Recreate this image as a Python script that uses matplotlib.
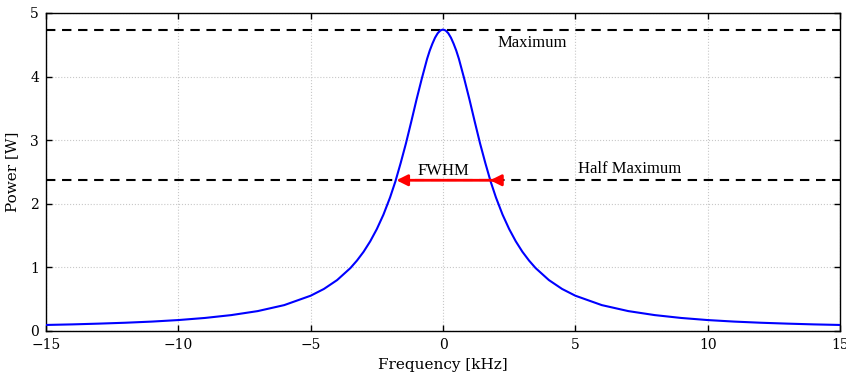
import matplotlib
matplotlib.use("Agg")
import matplotlib.pyplot as plt

# Right half of the (symmetric) spectrum
freq_half = [0.0, 0.1, 0.2, 0.3, 0.4, 0.5, 0.6, 0.8, 1.0, 1.2, 1.4, 1.6, 1.8,
             2.0, 2.25, 2.5, 2.75, 3.0, 3.25, 3.5, 4.0, 4.5, 5.0, 6.0, 7.0,
             8.0, 9.0, 10.0, 11.0, 12.0, 13.0, 14.0, 15.0]
power_half = [4.740, 4.725, 4.682, 4.612, 4.518, 4.410, 4.280, 3.970, 3.640,
              3.290, 2.950, 2.640, 2.350, 2.100, 1.830, 1.603, 1.410, 1.246,
              1.108, 0.989, 0.801, 0.661, 0.555, 0.407, 0.313, 0.250, 0.205,
              0.172, 0.148, 0.130, 0.116, 0.104, 0.095]

max_power = 4.74
half_power = 2.37
fwhm_left, fwhm_right = -1.76, 1.78

x_ticks = [-15, -10, -5, 0, 5, 10, 15]
y_ticks = [0, 1, 2, 3, 4, 5]

freq = [-f for f in freq_half[:0:-1]] + freq_half
power = power_half[:0:-1] + power_half

serif = ["DejaVu Serif"]
times = ["Liberation Serif", "DejaVu Serif"]

fig = plt.figure(figsize=(8.46, 3.73), dpi=100)
ax = fig.add_axes([46/846, 1-331/373, (840-46)/846, (331-13)/373])

ax.plot(freq, power, color="#0000ff", lw=1.5, zorder=3)
ax.axhline(max_power, color="black", lw=1.5, ls=(0, (4.5, 3.2)), zorder=2)
ax.axhline(half_power, color="black", lw=1.5, ls=(0, (4.5, 3.2)), zorder=2)

ap = dict(arrowstyle="-|>,head_length=0.6,head_width=0.3", color="red", lw=2,
          shrinkA=0, shrinkB=0, mutation_scale=11)
ax.annotate("", xy=(fwhm_left, half_power), xytext=(2.05, half_power), arrowprops=ap, zorder=4)
ax.annotate("", xy=(fwhm_right, half_power), xytext=(2.05, half_power), arrowprops=ap, zorder=4)

ax.text(0.0, 2.52, "FWHM", family=times, fontsize=12, ha="center", va="center")
ax.text(2.05, 4.53, "Maximum", family=times, fontsize=12, ha="left", va="center")
ax.text(5.1, 2.54, "Half Maximum", family=times, fontsize=12, ha="left", va="center")

ax.set_xlim(-15, 15)
ax.set_ylim(0, 5)
ax.set_xticks(x_ticks)
ax.set_yticks(y_ticks)
ax.grid(True, color="#c8c8c8", ls=":", lw=0.8)
ax.set_axisbelow(True)
ax.tick_params(direction="in", top=True, right=True, length=4, width=1,
               labelsize=10, pad=5)
for lab in ax.get_xticklabels() + ax.get_yticklabels():
    lab.set_family(serif)
for s in ax.spines.values():
    s.set_linewidth(1.0)

ax.set_xlabel("Frequency [kHz]", family=serif, fontsize=11, labelpad=4)
ax.set_ylabel("Power [W]", family=serif, fontsize=11, labelpad=8)

fig.savefig("out.png", dpi=100, facecolor="white")
